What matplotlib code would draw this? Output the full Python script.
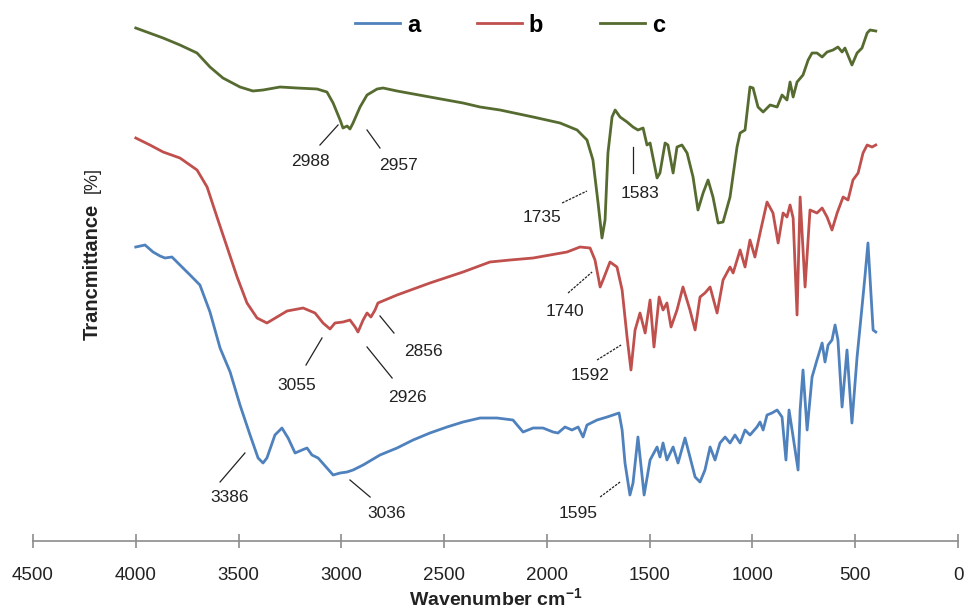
import numpy as np
import matplotlib
matplotlib.use("Agg")
import matplotlib.pyplot as plt

plt.rcParams['font.family'] = ['Liberation Sans', 'DejaVu Sans']
plt.rcParams['mathtext.fontset'] = 'custom'
plt.rcParams['mathtext.rm'] = 'Liberation Sans'
plt.rcParams['mathtext.bf'] = 'Liberation Sans:bold'

# FTIR spectra (wavenumber cm-1, transmittance in arbitrary stacked units)
wn_a = [4000, 3955, 3916, 3882, 3858, 3824, 3785, 3736, 3688, 3639, 3590, 3541, 3493, 3444, 3405,
        3381, 3362, 3323, 3289, 3259, 3225, 3191, 3167, 3143, 3113, 3070, 3040, 3006, 2972, 2943,
        2894, 2812, 2729, 2651, 2569, 2486, 2408, 2325, 2243, 2165, 2116, 2067, 2019, 1970, 1946,
        1912, 1878, 1848, 1824, 1805, 1756, 1707, 1678, 1649, 1634, 1620, 1596, 1581, 1557, 1527,
        1498, 1464, 1450, 1435, 1416, 1386, 1362, 1328, 1304, 1279, 1255, 1231, 1206, 1182, 1158,
        1133, 1109, 1085, 1060, 1036, 1012, 978, 963, 948, 929, 905, 880, 856, 837, 822,
        802, 778, 768, 754, 734, 710, 686, 661, 647, 632, 613, 598, 584, 564, 540,
        516, 491, 467, 452, 438, 413, 400]
t_a = [294, 296, 289, 285, 283, 284, 276, 266, 256, 229, 193, 169, 136, 106, 83,
       78, 83, 106, 113, 103, 88, 91, 93, 86, 83, 73, 66, 68, 69, 71,
       76, 86, 93, 101, 108, 114, 119, 123, 123, 121, 109, 113, 113, 109, 108,
       114, 111, 114, 104, 116, 121, 124, 126, 128, 111, 78, 46, 58, 104, 46,
       81, 94, 84, 98, 81, 94, 78, 103, 84, 64, 59, 71, 94, 81, 98,
       104, 98, 106, 98, 111, 106, 114, 119, 111, 126, 128, 131, 124, 81, 131,
       104, 71, 131, 171, 111, 164, 181, 198, 179, 196, 201, 216, 201, 134, 191,
       118, 184, 234, 266, 298, 211, 209]

wn_b = [4000, 3931, 3867, 3785, 3702, 3653, 3605, 3556, 3507, 3459, 3410, 3362, 3313, 3264, 3186,
        3128, 3089, 3055, 3031, 2992, 2958, 2933, 2919, 2894, 2875, 2856, 2836, 2822, 2729, 2569,
        2408, 2277, 2179, 2067, 1902, 1839, 1790, 1766, 1741, 1727, 1693, 1659, 1634, 1610, 1591,
        1571, 1547, 1522, 1498, 1479, 1454, 1435, 1416, 1396, 1367, 1338, 1304, 1279, 1255, 1231,
        1206, 1172, 1143, 1109, 1094, 1060, 1036, 1012, 988, 963, 929, 900, 875, 851, 832,
        817, 802, 783, 768, 744, 720, 686, 661, 637, 613, 588, 559, 535, 511, 486,
        462, 442, 418, 400]
t_b = [403, 396, 389, 383, 371, 354, 324, 294, 264, 238, 223, 218, 224, 230, 233,
       228, 218, 212, 218, 219, 221, 214, 209, 221, 228, 224, 231, 238, 246, 258,
       269, 279, 281, 283, 289, 294, 293, 281, 254, 261, 279, 274, 251, 204, 171,
       211, 228, 208, 241, 194, 244, 231, 238, 214, 231, 254, 231, 211, 244, 248,
       254, 228, 261, 274, 268, 291, 274, 301, 284, 308, 339, 328, 298, 328, 324,
       336, 323, 226, 344, 254, 331, 328, 333, 324, 311, 328, 344, 341, 361, 368,
       388, 396, 394, 396]

wn_c = [4000, 3867, 3785, 3702, 3639, 3576, 3493, 3430, 3381, 3298, 3216, 3118, 3070, 3040, 3006,
        2992, 2972, 2958, 2943, 2909, 2875, 2826, 2797, 2729, 2569, 2408, 2325, 2228, 2067, 1936,
        1853, 1805, 1776, 1751, 1732, 1717, 1703, 1683, 1668, 1644, 1610, 1581, 1557, 1532, 1513,
        1498, 1464, 1450, 1425, 1411, 1386, 1367, 1343, 1318, 1289, 1265, 1240, 1216, 1192, 1167,
        1143, 1109, 1075, 1060, 1036, 1012, 997, 973, 948, 914, 880, 856, 832, 817, 802,
        783, 754, 729, 710, 686, 661, 637, 608, 584, 564, 550, 516, 491, 467, 442,
        428, 400]
t_c = [513, 503, 496, 488, 474, 463, 454, 450, 451, 454, 453, 452, 449, 438, 421,
       413, 415, 412, 418, 434, 446, 452, 453, 450, 444, 438, 434, 431, 424, 418,
       411, 401, 381, 338, 303, 321, 388, 424, 431, 424, 419, 414, 411, 413, 396,
       398, 363, 368, 398, 396, 368, 394, 396, 388, 364, 331, 348, 361, 344, 318,
       319, 344, 394, 408, 411, 454, 453, 434, 429, 436, 434, 446, 441, 459, 444,
       459, 466, 481, 488, 488, 484, 489, 491, 494, 489, 493, 476, 488, 493, 508,
       511, 510]

series = ['a', 'b', 'c']
colors = ['#4F81BD', '#C0504D', '#566B30']

# peak labels: text, text position, leader line (start, end), dashed leader?
peaks = [
    ('2988', (3152, 379), (3104, 396), (3016, 416), False),
    ('2957', (2724, 376), (2875, 411), (2812, 393), False),
    ('1735', (2024, 324), (1926, 338), (1805, 350), True),
    ('1583', (1547, 348), (1581, 394), (1581, 368), False),
    ('1740', (1912, 229), (1897, 248), (1780, 269), True),
    ('1592', (1790, 166), (1756, 181), (1639, 196), True),
    ('3055', (3216, 156), (3172, 176), (3094, 203), False),
    ('2926', (2680, 144), (2875, 194), (2753, 163), False),
    ('2856', (2603, 189), (2812, 225), (2744, 208), False),
    ('3386', (3542, 44), (3590, 59), (3469, 88), False),
    ('3036', (2778, 27), (2958, 61), (2860, 44), False),
    ('1595', (1848, 28), (1741, 44), (1644, 59), True),
]

fig = plt.figure(figsize=(9.66, 6.09), dpi=100)
ax = fig.add_axes([33/966, 68/609, 925/966, 531/609])

for wn, t, name, col in zip([wn_a, wn_b, wn_c], [t_a, t_b, t_c], series, colors):
    ax.plot(wn, t, color=col, lw=2.0, label=name)

for lab, tp, p1, p2, dashed in peaks:
    ax.plot([p1[0], p2[0]], [p1[1], p2[1]], color='#222222', lw=0.9,
            ls=(0, (2, 1)) if dashed else '-')
    ax.text(tp[0], tp[1], lab, ha='center', va='center', fontsize=12.5, color='#222222')

ax.set_xlim(4500, 0)
ax.set_ylim(0, 531)
ax.set_xticks(np.arange(4500, -1, -500))
ax.set_yticks([])
for s in ['top', 'right', 'left']:
    ax.spines[s].set_visible(False)
ax.spines['bottom'].set_color('#8c8c8c')
ax.spines['bottom'].set_linewidth(1.2)
ax.tick_params(axis='x', direction='inout', length=10, width=1.2, color='#8c8c8c',
               pad=14, labelsize=13.5, labelcolor='#222222')

ax.set_xlabel(r'Wavenumber cm$^{\mathbf{-1}}$', fontsize=14, fontweight='bold', color='#222222')
ax.xaxis.set_label_coords(0.5, -0.088)

fig.text(92/966, 1 - 272/609, 'Trancmittance', rotation=90, ha='center', va='center',
         fontsize=14.5, fontweight='bold', color='#222222')
fig.text(92/966, 1 - 180/609, '[%]', rotation=90, ha='center', va='center',
         fontsize=13, color='#222222')

fig.legend(loc='center', bbox_to_anchor=(510/966, 1 - 25/609), ncol=3, frameon=False,
           handlelength=1.9, handletextpad=0.3, columnspacing=2.4,
           prop={'weight': 'bold', 'size': 17})

fig.savefig('out.png', dpi=100)
